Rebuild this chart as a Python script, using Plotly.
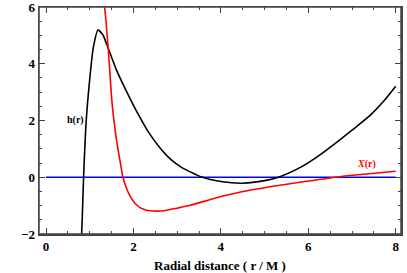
import plotly.graph_objects as go

# h(r) curve samples
h_r = [0.80, 0.83, 0.86, 0.92, 1.00, 1.08, 1.19, 1.30, 1.39, 1.62, 1.85, 2.08, 2.34, 2.60,
       2.84, 3.10, 3.56, 4.00, 4.50, 5.00, 5.35, 5.88, 6.25, 6.64, 7.00, 7.40, 7.70, 8.00]
h_v = [-2.6, -1.4, 0.0, 2.0, 3.45, 4.55, 5.19, 5.02, 4.68, 3.75, 3.00, 2.30, 1.60, 1.05,
       0.65, 0.35, 0.01, -0.15, -0.21, -0.12, 0.02, 0.40, 0.77, 1.22, 1.66, 2.16, 2.64, 3.21]

# X(r) curve samples
x_r = [1.32, 1.34, 1.37, 1.43, 1.51, 1.60, 1.72, 1.76, 1.84, 1.92, 2.03, 2.15, 2.30, 2.46,
       2.70, 3.00, 3.30, 3.90, 4.66, 5.35, 5.88, 6.72, 8.00]
x_v = [6.5, 6.0, 5.56, 4.39, 2.63, 1.45, 0.34, 0.0, -0.38, -0.66, -0.91, -1.07, -1.16, -1.19,
       -1.18, -1.09, -0.99, -0.72, -0.46, -0.28, -0.16, 0.02, 0.21]

# zero line
z_r = [0, 8]
z_v = [0, 0]

x_ticks = [0, 2, 4, 6, 8]
y_ticks = [-2, 0, 2, 4, 6]
x_range = [-0.16, 8.12]
y_range = [-2, 6]

fig = go.Figure()
fig.add_trace(go.Scatter(x=z_r, y=z_v, mode="lines", line=dict(color="#0000ff", width=1.6)))
fig.add_trace(go.Scatter(x=h_r, y=h_v, mode="lines", line=dict(color="black", width=1.6, shape="spline", smoothing=0.6)))
fig.add_trace(go.Scatter(x=x_r, y=x_v, mode="lines", line=dict(color="#ff0000", width=1.6, shape="spline", smoothing=0.6)))

fig.add_annotation(x=0.67, y=2.02, text="<b>h(r)</b>", showarrow=False,
                   font=dict(family="Liberation Serif", size=10, color="black"))
fig.add_annotation(x=7.33, y=0.48, text="<b><i>X</i>(r)</b>", showarrow=False,
                   font=dict(family="Liberation Serif", size=10, color="#ff0000"))

frame = "#444444"
axis_common = dict(showgrid=False, zeroline=False, showline=True, linecolor=frame, linewidth=1.5,
                   mirror="allticks", ticks="inside", ticklen=6, tickcolor=frame, tickwidth=1,
                   automargin=False, ticklabeloverflow="allow",
                   tickfont=dict(family="Liberation Serif", size=13, color="black", weight="bold"))
minor = dict(dtick=0.5, ticks="inside", ticklen=3, tickcolor=frame, showgrid=False)

fig.update_layout(
    width=407, height=273,
    margin=dict(l=39, r=6, t=7, b=39),
    plot_bgcolor="white", paper_bgcolor="white",
    showlegend=False,
    xaxis=dict(range=x_range, tickvals=x_ticks, minor=minor,
               title=dict(text="<b>Radial distance ( r / M )</b>", standoff=8,
                          font=dict(family="Liberation Serif", size=13, color="black")),
               **axis_common),
    yaxis=dict(range=y_range, tickvals=y_ticks, minor=minor, **axis_common),
    shapes=[dict(type="rect", xref="paper", yref="paper", x0=0, x1=1, y0=0, y1=1,
                 line=dict(color=frame, width=1.5), layer="above")],
)

fig.write_html("out.html", config={"displayModeBar": False, "staticPlot": True},
               post_script="document.body.style.margin='0';document.body.style.overflow='hidden';")
